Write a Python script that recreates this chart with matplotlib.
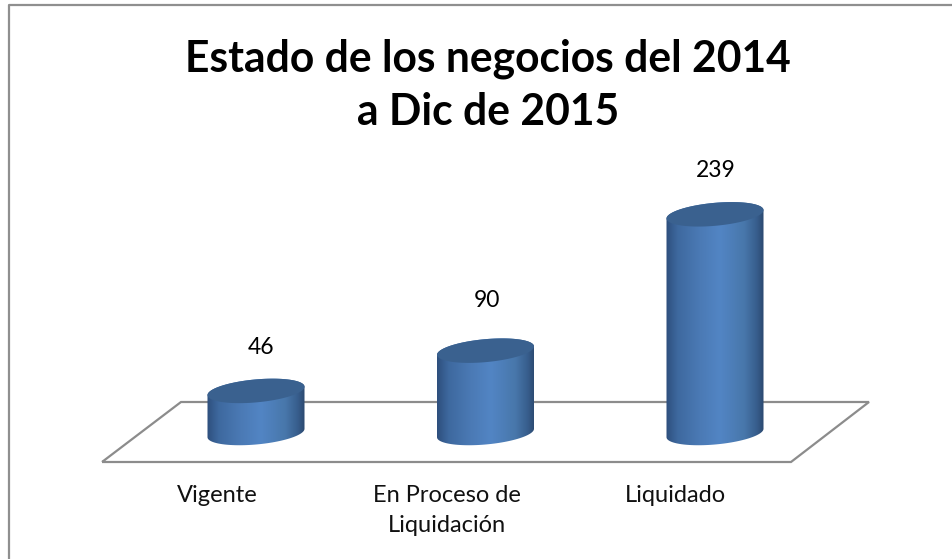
import numpy as np
from matplotlib import pyplot as plt
from matplotlib.colors import LinearSegmentedColormap
from matplotlib.path import Path
from matplotlib.patches import PathPatch
from matplotlib.transforms import Affine2D, IdentityTransform

categories = ["Vigente", "En Proceso de\nLiquidación", "Liquidado"]
values = [46, 90, 239]
title = "Estado de los negocios del 2014\na Dic de 2015"

W, H = 953, 559
plt.rcParams['font.family'] = ['Lato', 'DejaVu Sans']

fig = plt.figure(figsize=(W / 100, H / 100), dpi=100)
ax = fig.add_axes([0, 0, 1, 1])
ax.axis('off')

# value 0 sits at pixel row 433, 0.915 px per unit, 229.5 px per category
ax.set_xlim(-256 / 229.5, (W - 256) / 229.5)
ax.set_ylim(-(H - 433) / 0.915, 433 / 0.915)

# image pixels (y down) to display
px = Affine2D().scale(1, -1).translate(0, H)

# frame and floor
ax.plot([9, 9, W], [H, 5, 5], color='#8f8f8f', lw=1.6, transform=px)
ax.add_patch(PathPatch(Path([(102, 462), (791, 462), (869, 402), (181, 402), (102, 462)]),
                       fc='white', ec='#8c8c8c', lw=1.6, transform=px))

cmap = LinearSegmentedColormap.from_list('cyl', [
    (0.0, '#2e4f7d'), (0.12, '#3e699f'), (0.35, '#4b7ab5'), (0.55, '#5285c4'),
    (0.8, '#4877ab'), (0.93, '#375d8c'), (1.0, '#2b486f')])
grad = np.linspace(0, 1, 256).reshape(1, -1)

half_w = 48.5
shear = 4.2
minor = 11.5
label_dx = [5, 1, 1]
label_dy = [43, 50, 44]


def rim(cx, cy, t):
    # display y points up: right end of the ellipse is the high one
    return np.column_stack([cx + half_w * np.cos(t),
                            cy + shear * np.cos(t) + minor * np.sin(t)])


for i, v in enumerate(values):
    # data position converted to display, the cylinder is drawn from there
    cx, top = ax.transData.transform((i, v))
    _, base = ax.transData.transform((i, 0))
    upper = rim(cx, top, np.linspace(np.pi, 0, 60))
    lower = rim(cx, base, np.linspace(np.pi, 2 * np.pi, 60))
    verts = np.vstack([upper, lower[::-1], upper[:1]])
    im = ax.imshow(grad, cmap=cmap, aspect='auto', zorder=3,
                   extent=(i - 0.212, i + 0.212, -30, v + 30))
    im.set_clip_path(Path(verts), IdentityTransform())
    cap = rim(cx, top, np.linspace(0, 2 * np.pi, 120))
    ax.add_patch(PathPatch(Path(cap), fc='#3a618f', ec='none', zorder=4,
                           transform=IdentityTransform()))
    ax.annotate(str(v), (i, v), xytext=(label_dx[i] * 0.72, label_dy[i] * 0.72),
                textcoords='offset points', ha='center', va='center',
                fontsize=16.5, color='black', zorder=5)

ax.set_xlim(-256 / 229.5, (W - 256) / 229.5)
ax.set_ylim(-(H - 433) / 0.915, 433 / 0.915)

label_x = [217.5, 446.5, 675]
for name, x in zip(categories, label_x):
    ax.text(x, 485, name, ha='center', va='top', fontsize=17, color='#111111',
            linespacing=1.5, transform=px)

fig.text(488 / W, 1 - 85.5 / H, title, ha='center', va='center', fontsize=30.7,
         fontweight='bold', color='black', linespacing=1.4)

fig.savefig("out.png", dpi=100)
